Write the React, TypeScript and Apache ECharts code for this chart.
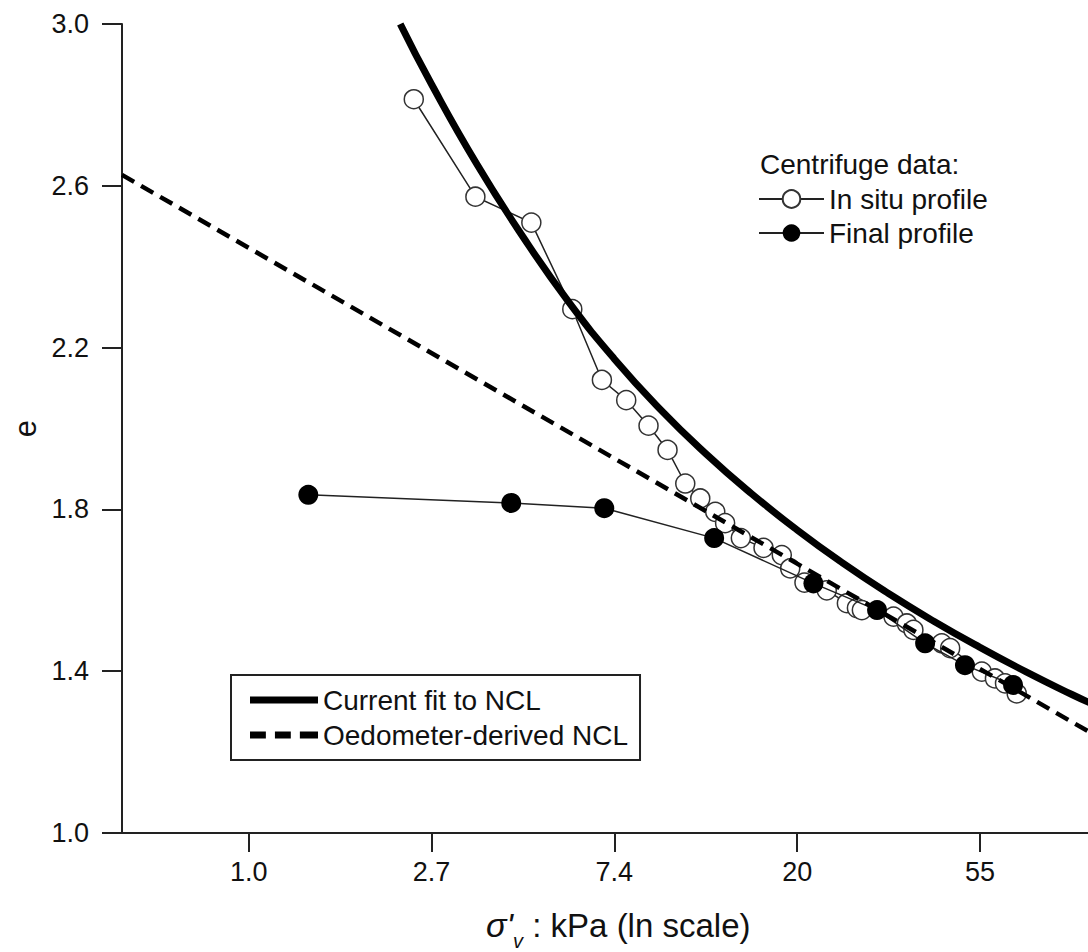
import React, { useEffect, useRef } from "react";
import * as echarts from "echarts";

const FONT = "'Liberation Sans', Arial, sans-serif";

// x axis: ln(σ'v), ticks at e^0 .. e^4
const xTickLn = [0, 1, 2, 3, 4];
const xTickLabels = ["1.0", "2.7", "7.4", "20", "55"];
const yTicks = [1.0, 1.4, 1.8, 2.2, 2.6, 3.0];

// Centrifuge data: In situ profile (ln σ'v, e)
const inSituLn = [0.903, 1.24, 1.546, 1.77, 1.932, 2.065, 2.187, 2.291, 2.388, 2.47, 2.552, 2.606, 2.692, 2.816, 2.916, 2.962, 3.04, 3.162, 3.272, 3.327, 3.354, 3.527, 3.6, 3.636, 3.791, 3.837, 4.01, 4.082, 4.137, 4.201];
const inSituE = [2.814, 2.573, 2.509, 2.295, 2.12, 2.07, 2.007, 1.947, 1.864, 1.827, 1.794, 1.766, 1.729, 1.705, 1.687, 1.654, 1.619, 1.6, 1.568, 1.556, 1.551, 1.535, 1.518, 1.502, 1.469, 1.457, 1.399, 1.382, 1.37, 1.345];

// Centrifuge data: Final profile
const finalLn = [0.326, 1.436, 1.945, 2.546, 3.089, 3.437, 3.7, 3.918, 4.181];
const finalE = [1.836, 1.816, 1.803, 1.729, 1.617, 1.551, 1.469, 1.415, 1.366];

// Current fit to NCL
const fitLn = [0.829, 1.0, 1.25, 1.5, 1.75, 2.0, 2.25, 2.5, 2.75, 3.0, 3.25, 3.5, 3.75, 4.0, 4.25, 4.5, 4.6052];
const fitE = [3.0, 2.851, 2.652, 2.474, 2.313, 2.172, 2.048, 1.938, 1.839, 1.749, 1.667, 1.592, 1.523, 1.459, 1.399, 1.343, 1.321];

// Oedometer-derived NCL (straight in ln space)
const oedoLn = [-0.6931, 4.6052];
const oedoE = [2.627, 1.248];

const zip = (a: number[], b: number[]) => a.map((v, i) => [v, b[i]]);

const DASH_ICON = "path://M0,0h14v6h-14z M22,0h14v6h-14z M44,0h16v6h-16z";

export default function App() {
  const ref = useRef<HTMLDivElement>(null);
  useEffect(() => {
    if (!ref.current) return;
    const chart = echarts.init(ref.current, null, { renderer: "svg" });
    const textBase = { fontFamily: FONT, color: "#111" };
    chart.setOption({
      animation: false,
      backgroundColor: "#fff",
      grid: { left: 122, top: 24, width: 968.6, height: 809, containLabel: false, outerBoundsMode: "none" },
      xAxis: {
        type: "value",
        min: -0.6931,
        max: 4.6052,
        name: "{s|σ'}{v|v}{t| : kPa (ln scale)}",
        nameLocation: "middle",
        nameGap: 69,
        nameTextStyle: {
          ...textBase,
          fontSize: 33,
          padding: [0, 0, 0, 24],
          rich: {
            s: { fontFamily: FONT, fontSize: 34, fontStyle: "italic", color: "#111", verticalAlign: "bottom", lineHeight: 40 },
            v: { fontFamily: FONT, fontSize: 20, fontStyle: "italic", color: "#111", verticalAlign: "bottom", lineHeight: 40, padding: [0, 0, -9, 0] },
            t: { fontFamily: FONT, fontSize: 33, color: "#111", verticalAlign: "bottom", lineHeight: 40 },
          },
        },
        axisLine: { show: true, onZero: false, lineStyle: { color: "#222", width: 2 } },
        axisTick: { show: true, inside: false, length: 19, customValues: xTickLn, lineStyle: { color: "#222", width: 2 } },
        axisLabel: {
          ...textBase,
          fontSize: 27,
          margin: 25,
          customValues: xTickLn,
          formatter: (v: number) => {
            let best = 0;
            xTickLn.forEach((t, i) => {
              if (Math.abs(t - v) < Math.abs(xTickLn[best] - v)) best = i;
            });
            return xTickLabels[best];
          },
        },
        splitLine: { show: false },
      },
      yAxis: {
        type: "value",
        min: 1.0,
        max: 3.0,
        name: "e",
        nameLocation: "middle",
        nameGap: 76,
        nameRotate: 90,
        nameTextStyle: { ...textBase, fontSize: 31 },
        axisLine: { show: true, onZero: false, lineStyle: { color: "#222", width: 2 } },
        axisTick: { show: true, inside: false, length: 20, customValues: yTicks, lineStyle: { color: "#222", width: 2 } },
        axisLabel: {
          ...textBase,
          fontSize: 27,
          margin: 33,
          customValues: yTicks,
          formatter: (v: number) => v.toFixed(1),
        },
        splitLine: { show: false },
      },
      legend: [
        {
          data: ["In situ profile", "Final profile"],
          orient: "vertical",
          left: 758,
          top: 185,
          padding: 0,
          itemWidth: 65,
          itemHeight: 22,
          itemGap: 6,
          itemTextGap: 9,
          selectedMode: false,
          textStyle: { ...textBase, fontSize: 28, lineHeight: 28 },
        },
        {
          data: [
            { name: "Current fit to NCL", icon: "rect" },
            { name: "Oedometer-derived NCL", icon: DASH_ICON },
          ],
          orient: "vertical",
          left: 231,
          top: 675,
          padding: [11, 12, 11, 19],
          itemWidth: 68,
          itemHeight: 7,
          symbolKeepAspect: false,
          itemGap: 7,
          itemTextGap: 8,
          borderColor: "#222",
          borderWidth: 2,
          borderRadius: 0,
          selectedMode: false,
          textStyle: { ...textBase, fontSize: 28, lineHeight: 28 },
        },
      ],
      graphic: [
        {
          type: "text",
          left: 760,
          top: 150,
          style: { text: "Centrifuge data:", fontSize: 28, fontFamily: FONT, fill: "#111" },
        },
      ],
      series: [
        {
          name: "In situ profile",
          type: "line",
          data: zip(inSituLn, inSituE),
          symbol: "circle",
          symbolSize: 19,
          itemStyle: { color: "#fff", borderColor: "#333", borderWidth: 1.5 },
          lineStyle: { color: "#222", width: 1.5 },
          z: 2,
        },
        {
          name: "Final profile",
          type: "line",
          data: zip(finalLn, finalE),
          symbol: "circle",
          symbolSize: 20,
          itemStyle: { color: "#000", borderColor: "#000", borderWidth: 0 },
          lineStyle: { color: "#222", width: 1.5 },
          z: 3,
        },
        {
          name: "Current fit to NCL",
          type: "line",
          data: zip(fitLn, fitE),
          symbol: "none",
          smooth: true,
          lineStyle: { color: "#000", width: 7 },
          itemStyle: { color: "#000" },
          z: 4,
        },
        {
          name: "Oedometer-derived NCL",
          type: "line",
          data: zip(oedoLn, oedoE),
          symbol: "none",
          lineStyle: { color: "#000", width: 4.5, type: [14, 8] },
          itemStyle: { color: "#000" },
          z: 4,
        },
      ],
    });
    return () => chart.dispose();
  }, []);
  return (
    <div
      ref={ref}
      style={{ position: "absolute", left: 0, top: 0, width: 1088, height: 952, overflow: "hidden", background: "#fff" }}
    />
  );
}
